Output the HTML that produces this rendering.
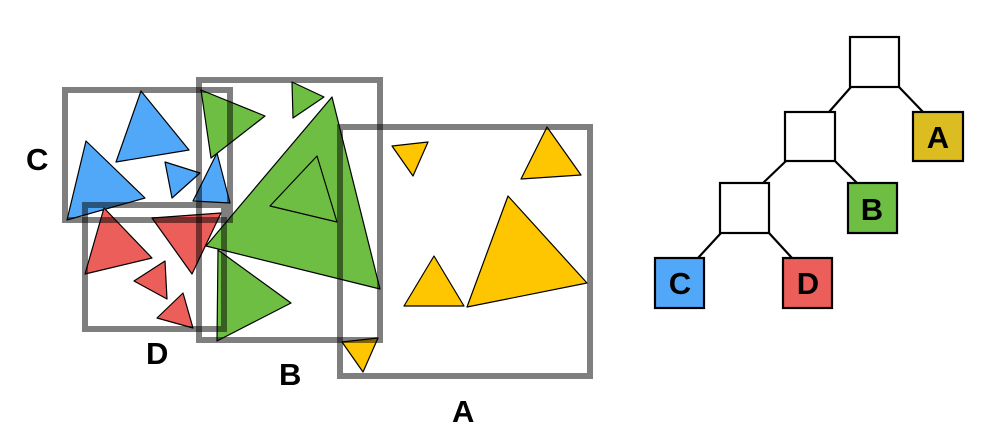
<!DOCTYPE html>
<html><head><meta charset="utf-8"><style>
html,body{margin:0;padding:0;background:#fff;}
svg{display:block;}
text{font-family:"Liberation Sans",sans-serif;font-weight:bold;font-size:31px;fill:#000;}
</style></head><body>
<svg width="995" height="435" viewBox="0 0 995 435" xmlns="http://www.w3.org/2000/svg">
<g stroke="#000" stroke-width="1.2" stroke-linejoin="round">
<!-- blue -->
<polygon fill="#52a8f8" points="141,91 189,150 116,162"/>
<polygon fill="#52a8f8" points="86,141 145,198 67,220"/>
<polygon fill="#52a8f8" points="165,162 200,173 172,198"/>
<polygon fill="#52a8f8" points="217,153 230,203 193,201"/>
<!-- red -->
<polygon fill="#ec5e5a" points="104,208 152,258 85,274"/>
<polygon fill="#ec5e5a" points="152,218 221,213 192,274"/>
<polygon fill="#ec5e5a" points="165,261 167,299 134,281"/>
<polygon fill="#ec5e5a" points="183,293 193,328 157,318"/>
<!-- green -->
<polygon fill="#6ebe44" points="201,90 265,116 211,158"/>
<polygon fill="#6ebe44" points="292,82 324,97 293,118"/>
<polygon fill="#6ebe44" points="332,97 380,289 206,246"/>
<polygon fill="#6ebe44" points="317,156 337,222 270,206"/>
<polygon fill="#6ebe44" points="218,250 291,303 217,341"/>
<!-- yellow -->
<polygon fill="#fdc600" points="392,146 428,142 413,176"/>
<polygon fill="#fdc600" points="547,127 581,175 521,179"/>
<polygon fill="#fdc600" points="434,256 464,306 404,306"/>
<polygon fill="#fdc600" points="508,196 587,283 467,307"/>
<polygon fill="#fdc600" points="342,342 378,338 363,372"/>
</g>
<g fill="none" stroke="#000" stroke-opacity="0.5" stroke-width="6">
<rect x="65" y="90" width="165" height="130"/>
<rect x="85" y="205" width="139" height="124"/>
<rect x="199" y="80" width="181" height="260"/>
<rect x="340" y="127" width="250" height="249"/>
</g>
<text x="26" y="170">C</text>
<text x="146" y="364">D</text>
<text x="279" y="385">B</text>
<text x="452" y="422">A</text>
<!-- tree -->
<g stroke="#000" stroke-width="2.2">
<line x1="851" y1="87" x2="829" y2="112"/>
<line x1="899" y1="87" x2="923" y2="112"/>
<line x1="786" y1="161" x2="763" y2="183"/>
<line x1="835" y1="161" x2="857" y2="183"/>
<line x1="721" y1="233" x2="698" y2="258"/>
<line x1="769" y1="233" x2="792" y2="258"/>
<rect x="850" y="37" width="49" height="50" fill="#fff"/>
<rect x="785" y="112" width="50" height="49" fill="#fff"/>
<rect x="720" y="183" width="49" height="50" fill="#fff"/>
<rect x="913" y="112" width="50" height="49" fill="#dbbd22"/>
<rect x="848" y="183" width="49" height="50" fill="#6ebe44"/>
<rect x="655" y="258" width="49" height="50" fill="#52a8f8"/>
<rect x="783" y="258" width="49" height="50" fill="#ec5e5a"/>
</g>
<g text-anchor="middle">
<text x="938" y="148">A</text>
<text x="872" y="220">B</text>
<text x="680" y="294">C</text>
<text x="808" y="294">D</text>
</g>
</svg>
</body></html>
